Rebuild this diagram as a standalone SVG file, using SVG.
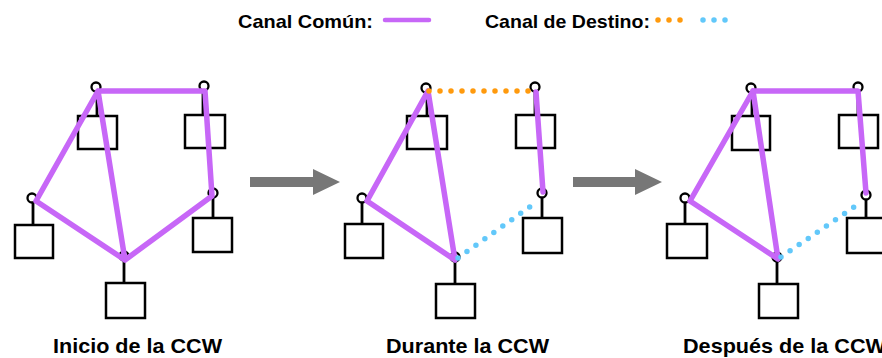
<svg xmlns="http://www.w3.org/2000/svg" width="882" height="358" viewBox="0 0 882 358">
<defs>
<style>
text{font-family:"Liberation Sans",Arial,sans-serif;font-weight:bold;fill:#000}
.lbl{font-size:21px}
.leg{font-size:19px}
.box{fill:#fff;stroke:#000;stroke-width:2.5}
.stem{stroke:#000;stroke-width:2.8}
.port{fill:#fff;stroke:#000;stroke-width:2.3}
.pur{stroke:#c767f7;stroke-width:5.5;stroke-linecap:round;stroke-linejoin:round;fill:none}
.org{stroke:#ff9a0d;stroke-width:5.5;stroke-linecap:round;stroke-dasharray:0 11;fill:none}
.blu{stroke:#62c8fa;stroke-width:5.5;stroke-linecap:round;stroke-dasharray:0 11;fill:none}
.arr{fill:#777}
</style>
</defs>
<rect width="882" height="358" fill="#fff"/>

<g id="legend">
<text class="leg" x="238" y="28" textLength="135" lengthAdjust="spacingAndGlyphs">Canal Común:</text>
<line class="pur" x1="385" y1="20" x2="429" y2="20" style="stroke-width:4.5"/>
<text class="leg" x="485" y="28" textLength="165" lengthAdjust="spacingAndGlyphs">Canal de Destino:</text>
<line class="org" x1="658" y1="20" x2="681" y2="20"/>
<line class="blu" x1="703" y1="20" x2="727" y2="20"/>
</g>

<!-- Panel 1 -->
<g id="p1-nodes">
<g id="p1-a"><line class="stem" x1="97" y1="89" x2="97" y2="116"/><rect class="box" x="78" y="116" width="39" height="33"/><circle class="port" cx="96" cy="87" r="4.5"/></g>
<g id="p1-b"><line class="stem" x1="203" y1="89" x2="203" y2="115"/><rect class="box" x="185" y="115" width="40" height="33"/><circle class="port" cx="204" cy="86" r="4.5"/></g>
<g id="p1-c"><line class="stem" x1="33" y1="200" x2="33" y2="225"/><rect class="box" x="15" y="225" width="38" height="33"/><circle class="port" cx="32" cy="198" r="4.5"/></g>
<g id="p1-d"><line class="stem" x1="213" y1="195" x2="213" y2="218"/><rect class="box" x="193" y="218" width="39" height="34"/><circle class="port" cx="213" cy="193" r="4.5"/></g>
<g id="p1-e"><line class="stem" x1="124" y1="258" x2="124" y2="283"/><rect class="box" x="106" y="283" width="39" height="35"/><circle class="port" cx="124" cy="256" r="4.5"/></g>
</g>
<g id="p1-connectors">
<polyline class="pur" points="98,91 205,91 212,196 125,260 36,201 98,91 125,260"/>
</g>
<text class="lbl" x="53" y="353" textLength="169" lengthAdjust="spacingAndGlyphs">Inicio de la CCW</text>

<g id="arrow1"><polygon class="arr" points="250,177 313,177 313,169 340,182 313,195 313,187 250,187"/></g>

<!-- Panel 2 -->
<g id="p2-nodes">
<g id="p2-a"><line class="stem" x1="427" y1="90" x2="427" y2="116"/><rect class="box" x="407" y="116" width="40" height="33"/><circle class="port" cx="426" cy="88" r="4.5"/></g>
<g id="p2-b"><line class="stem" x1="535" y1="89" x2="535" y2="115"/><rect class="box" x="516" y="115" width="39" height="33"/><circle class="port" cx="535" cy="87" r="4.5"/></g>
<g id="p2-c"><line class="stem" x1="362" y1="200" x2="362" y2="224"/><rect class="box" x="345" y="224" width="38" height="34"/><circle class="port" cx="362" cy="198" r="4.5"/></g>
<g id="p2-d"><line class="stem" x1="542" y1="195" x2="542" y2="218"/><rect class="box" x="523" y="218" width="39" height="35"/><circle class="port" cx="542" cy="193" r="4.5"/></g>
<g id="p2-e"><line class="stem" x1="455" y1="259" x2="455" y2="284"/><rect class="box" x="436" y="284" width="39" height="34"/><circle class="port" cx="455" cy="257" r="4.5"/></g>
</g>
<g id="p2-connectors">
<polyline class="pur" points="455,260 367,201 428,91 455,260"/>
<line class="pur" x1="536" y1="92" x2="543" y2="192"/>
<line class="org" x1="429" y1="91" x2="537" y2="91"/>
<line class="blu" x1="458" y1="258" x2="538" y2="201"/>
</g>
<text class="lbl" x="386" y="353" textLength="163" lengthAdjust="spacingAndGlyphs">Durante la CCW</text>

<g id="arrow2"><polygon class="arr" points="573,177 635,177 635,169 662,182 635,195 635,187 573,187"/></g>

<!-- Panel 3 -->
<g id="p3-nodes">
<g id="p3-a"><line class="stem" x1="752" y1="90" x2="752" y2="116"/><rect class="box" x="732" y="116" width="38" height="34"/><circle class="port" cx="751" cy="88" r="4.5"/></g>
<g id="p3-b"><line class="stem" x1="858" y1="89" x2="858" y2="115"/><rect class="box" x="839" y="115" width="39" height="33"/><circle class="port" cx="858" cy="87" r="4.5"/></g>
<g id="p3-c"><line class="stem" x1="685" y1="200" x2="685" y2="224"/><rect class="box" x="667" y="224" width="40" height="34"/><circle class="port" cx="685" cy="198" r="4.5"/></g>
<g id="p3-d"><line class="stem" x1="866" y1="197" x2="866" y2="218"/><rect class="box" x="847" y="218" width="40" height="35"/><circle class="port" cx="866" cy="195" r="4.5"/></g>
<g id="p3-e"><line class="stem" x1="777" y1="259" x2="777" y2="284"/><rect class="box" x="759" y="284" width="39" height="34"/><circle class="port" cx="777" cy="257" r="4.5"/></g>
</g>
<g id="p3-connectors">
<polyline class="pur" points="778,259 690,201 753,91 778,259"/>
<polyline class="pur" points="753,91 858,91 866,193"/>
<line class="blu" x1="781" y1="257" x2="860" y2="203"/>
</g>
<text class="lbl" x="683" y="353" textLength="203" lengthAdjust="spacingAndGlyphs">Después de la CCW</text>
</svg>
